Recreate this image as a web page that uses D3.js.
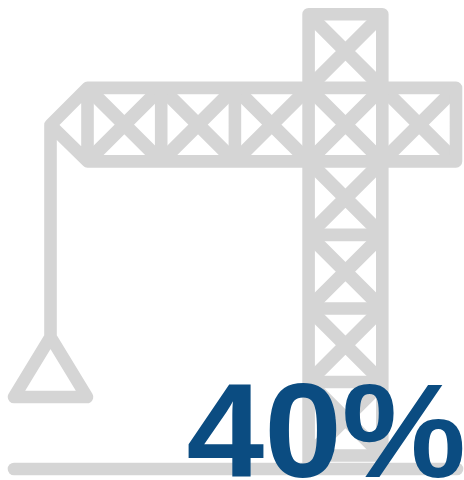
<!DOCTYPE html>
<html>
<head>
<meta charset="utf-8">
<script src="https://cdn.jsdelivr.net/npm/d3@7/dist/d3.min.js"></script>
<style>
html, body { margin: 0; padding: 0; background: #fff; }
svg { display: block; }
</style>
</head>
<body>
<div id="chart"></div>
<script>
var canvasWidth = 464;
var canvasHeight = 480;

// the one number on the chart
var percentValue = [40];
var percentLabels = ["40%"];

// crane grid: jib panels run along row 1, tower panels along column 3
var jibColumns = [0, 1, 2, 3, 4];
var towerRows = [0, 1, 2, 3, 4, 5];

var grey = "#d5d5d5";
var blue = "#0b4c81";
var strokeW = 12.6;
var braceW = 13.6;

var x = d3.scaleLinear().domain([0, 5]).range([87.5, 456]);
var y = d3.scaleLinear().domain([0, 6]).range([14.3, 455.5]);

var svg = d3.select("#chart")
    .append("svg")
    .attr("width", canvasWidth)
    .attr("height", canvasHeight);

var line = d3.line();
var craneD = "";
var braceD = "";

// one square panel with its cross, frames go in a single path so the overlaps don't show
function panel(col, row) {
    var x0 = x(col), x1 = x(col + 1), y0 = y(row), y1 = y(row + 1);
    craneD += line([[x0, y0], [x1, y0], [x1, y1], [x0, y1]]) + "Z";
    braceD += line([[x0, y0], [x1, y1]]);
    braceD += line([[x1, y0], [x0, y1]]);
}

jibColumns.forEach(function (c) { panel(c, 1); });
towerRows.forEach(function (r) { panel(3, r); });

// tower legs reach the ground
var groundY = 469;
craneD += line([[x(3), y(6)], [x(3), groundY]]);
craneD += line([[x(4), y(6)], [x(4), groundY]]);

// nose of the jib and the hoist cable
var cableX = 50.5, noseY = 125, apexY = 337, weightY = 397;
craneD += line([[x(0), y(1)], [cableX, noseY], [x(0), y(2)]]);
craneD += line([[cableX, noseY], [cableX, apexY]]);
craneD += line([[cableX, apexY], [87, weightY], [14, weightY]]) + "Z";

var crane = svg.append("g")
    .attr("fill", "none")
    .attr("stroke", grey)
    .attr("stroke-width", strokeW)
    .attr("stroke-linejoin", "round");

crane.append("path").attr("d", braceD).attr("stroke-width", braceW);
crane.append("path").attr("d", craneD);
crane.append("path")
    .attr("d", line([[14, groundY], [457, groundY]]))
    .attr("stroke-linecap", "round");

svg.selectAll("text.pct")
    .data(percentValue)
    .enter()
    .append("text")
    .attr("class", "pct")
    .attr("transform", "translate(466,477) scale(1.042,1)")
    .attr("text-anchor", "end")
    .attr("font-family", "'Liberation Sans', Arial, sans-serif")
    .attr("font-weight", "bold")
    .attr("font-size", 134)
    .attr("fill", blue)
    .text(function (d, i) { return percentLabels[i]; });
</script>
</body>
</html>
